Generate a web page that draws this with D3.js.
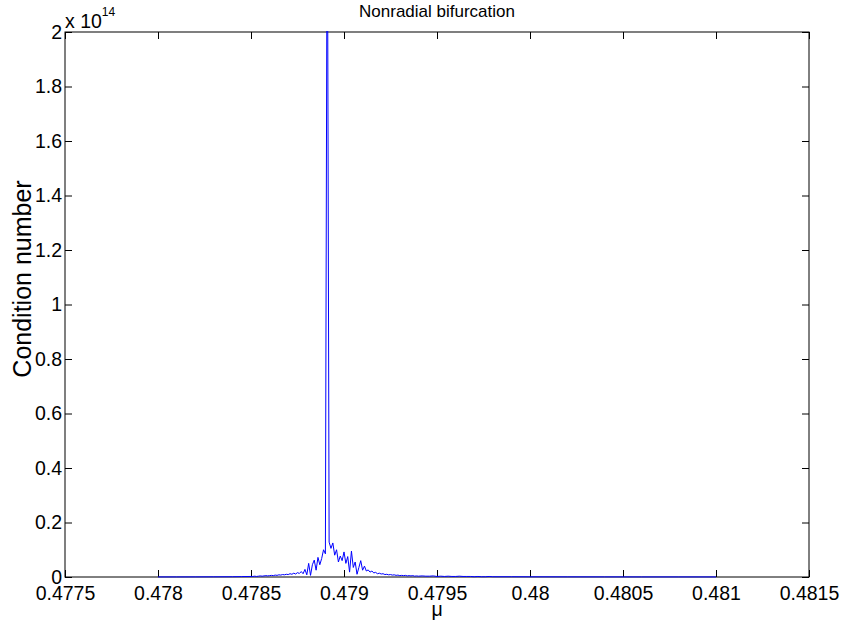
<!DOCTYPE html>
<html>
<head>
<meta charset="utf-8">
<script src="https://cdn.jsdelivr.net/npm/d3@7.9.0/dist/d3.min.js"></script>
<style>
  body { margin: 0; background: #fff; }
  svg { display: block; font-family: "Liberation Sans", Arial, sans-serif; }
  .tick line { stroke: #000; }
</style>
</head>
<body>
<svg id="chart" width="843" height="626"></svg>
<script>
// condition number (in units of 1e14) against mu
const mu = [
  0.4780, 0.4781, 0.4782, 0.4783, 0.4784, 0.47845,
  0.47850, 0.47851, 0.47852, 0.47853, 0.47854, 0.47855, 0.47856, 0.47857, 0.47858, 0.47859,
  0.47860, 0.47861, 0.47862, 0.47863, 0.47864, 0.47865, 0.47866, 0.47867, 0.47868, 0.47869,
  0.47870, 0.47871, 0.47872, 0.47873, 0.47874, 0.47875, 0.47876, 0.47877, 0.47878, 0.47879,
  0.47880, 0.47881, 0.47882, 0.47883, 0.47884, 0.47885, 0.47886, 0.47887, 0.47888, 0.47889,
  0.47890, 0.47891, 0.47892, 0.47893, 0.47894, 0.47895, 0.47896, 0.47897, 0.47898, 0.47899,
  0.47900, 0.47901, 0.47902, 0.47903, 0.47904, 0.47905, 0.47906, 0.47907, 0.47908, 0.47909,
  0.47910, 0.47911, 0.47912, 0.47913, 0.47914, 0.47915, 0.47916, 0.47917, 0.47918, 0.47919,
  0.47920, 0.47921, 0.47922, 0.47923, 0.47924, 0.47925, 0.47926, 0.47927, 0.47928, 0.47929,
  0.47930, 0.47931, 0.47932, 0.47933, 0.47934, 0.47935, 0.47936, 0.47937, 0.47938, 0.47939,
  0.47940,
  0.47942, 0.47944, 0.47946, 0.47948, 0.47950, 0.47952, 0.47954, 0.47956, 0.47958, 0.47960,
  0.47962, 0.47964, 0.47966, 0.47968, 0.47970, 0.47972, 0.47974, 0.47976, 0.47978, 0.47980,
  0.4799, 0.4800, 0.4802, 0.4804, 0.4806, 0.4808, 0.4810
];
const cond = [
  0.0003, 0.0004, 0.0005, 0.0007, 0.0010, 0.0015,
  0.002, 0.002, 0.003, 0.002, 0.003, 0.004, 0.003, 0.004, 0.005, 0.004,
  0.005, 0.006, 0.005, 0.007, 0.006, 0.008, 0.007, 0.009, 0.008, 0.010,
  0.009, 0.012, 0.010, 0.014, 0.011, 0.016, 0.013, 0.020, 0.012, 0.028,
  0.008, 0.050, 0.006, 0.045, 0.062, 0.025, 0.072, 0.045, 0.068, 0.100,
  0.085, 2.700, 0.128, 0.105, 0.125, 0.080, 0.100, 0.055, 0.077, 0.060,
  0.092, 0.050, 0.075, 0.018, 0.095, 0.035, 0.055, 0.010, 0.035, 0.060,
  0.025, 0.040, 0.022, 0.026, 0.018, 0.022, 0.015, 0.017, 0.012, 0.014,
  0.011, 0.012, 0.009, 0.010, 0.008, 0.009, 0.007, 0.008, 0.006, 0.007,
  0.005, 0.006, 0.005, 0.006, 0.004, 0.005, 0.004, 0.005, 0.003, 0.004,
  0.003,
  0.004, 0.003, 0.003, 0.004, 0.002, 0.003, 0.002, 0.003, 0.002, 0.002,
  0.003, 0.002, 0.002, 0.002, 0.001, 0.002, 0.001, 0.001, 0.002, 0.001,
  0.0010, 0.0008, 0.0006, 0.0005, 0.0004, 0.0004, 0.0003
];

const xTicks = [0.4775, 0.478, 0.4785, 0.479, 0.4795, 0.48, 0.4805, 0.481, 0.4815];
const xTickLabels = ['0.4775', '0.478', '0.4785', '0.479', '0.4795', '0.48', '0.4805', '0.481', '0.4815'];
const yTicks = [0, 0.2, 0.4, 0.6, 0.8, 1, 1.2, 1.4, 1.6, 1.8, 2];
const yTickLabels = ['0', '0.2', '0.4', '0.6', '0.8', '1', '1.2', '1.4', '1.6', '1.8', '2'];

const W = 843, H = 626;
const margin = { top: 32, right: 34, bottom: 49, left: 65 };
const pw = W - margin.left - margin.right;
const ph = H - margin.top - margin.bottom;
const tick = 7;
const fs = 19.5;

let svg = d3.select('#chart');
svg.append('rect').attr('width', W).attr('height', H).attr('fill', '#fff');

let g = svg.append('g').attr('transform', `translate(${margin.left},${margin.top})`);

let x = d3.scaleLinear().domain([0.4775, 0.4815]).range([0, pw]);
let y = d3.scaleLinear().domain([0, 2]).range([ph, 0]);

function fmt(ticks, labels) {
  return (d) => labels[ticks.indexOf(d)];
}

// bottom axis, ticks pointing inward
let xb = g.append('g').attr('transform', `translate(0,${ph})`)
  .call(d3.axisBottom(x).tickValues(xTicks).tickFormat(fmt(xTicks, xTickLabels))
    .tickSizeInner(-tick).tickSizeOuter(0).tickPadding(9));
xb.selectAll('text').attr('font-size', fs).attr('fill', '#000');

let xt = g.append('g')
  .call(d3.axisTop(x).tickValues(xTicks).tickFormat('').tickSizeInner(-tick).tickSizeOuter(0));

let yl = g.append('g')
  .call(d3.axisLeft(y).tickValues(yTicks).tickFormat(fmt(yTicks, yTickLabels))
    .tickSizeInner(-tick).tickSizeOuter(0).tickPadding(3));
yl.selectAll('text').attr('font-size', fs).attr('fill', '#000');

let yr = g.append('g').attr('transform', `translate(${pw},0)`)
  .call(d3.axisRight(y).tickValues(yTicks).tickFormat('').tickSizeInner(-tick).tickSizeOuter(0));

g.selectAll('.domain').remove();
g.selectAll('.tick line').attr('stroke', '#000').attr('stroke-width', 1);

// box
g.append('rect').attr('width', pw).attr('height', ph)
  .attr('fill', 'none').attr('stroke', '#000').attr('stroke-width', 1);

// data line, clipped to the axes
g.append('clipPath').attr('id', 'clip')
  .append('rect').attr('x', 0).attr('y', -1).attr('width', pw).attr('height', ph + 2);

let line = d3.line().x((d, i) => x(mu[i])).y((d) => y(d));
g.append('path')
  .datum(cond)
  .attr('clip-path', 'url(#clip)')
  .attr('d', line)
  .attr('fill', 'none')
  .attr('stroke', '#0000ff')
  .attr('stroke-width', 1);

// exponent label
let ex = g.append('text').attr('x', 0).attr('y', -4).attr('font-size', fs).attr('fill', '#000');
ex.append('tspan').text('x 10');
ex.append('tspan').attr('font-size', 12).attr('dy', -12).text('14');

// title
g.append('text').attr('x', pw / 2).attr('y', -15).attr('text-anchor', 'middle')
  .attr('font-size', 17).attr('fill', '#000').text('Nonradial bifurcation');

// axis labels
g.append('text').attr('x', pw / 2).attr('y', ph + 39).attr('text-anchor', 'middle')
  .attr('font-size', fs).attr('fill', '#000').text('μ');

g.append('text').attr('transform', `translate(-34,247) rotate(-90)`)
  .attr('text-anchor', 'middle').attr('font-size', 25).attr('fill', '#000')
  .text('Condition number');
</script>
</body>
</html>
